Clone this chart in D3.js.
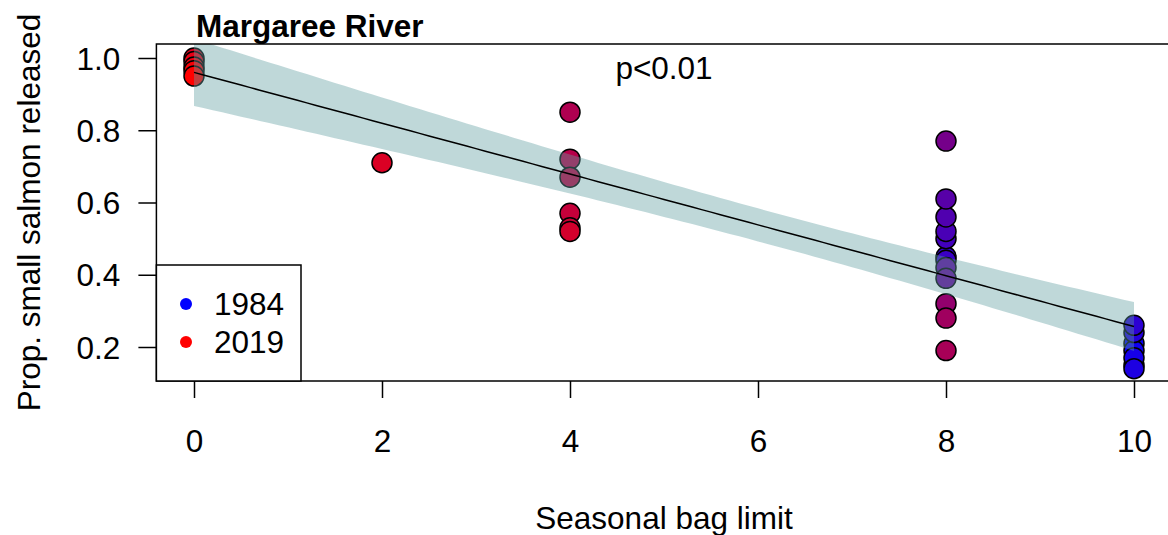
<!DOCTYPE html>
<html>
<head>
<meta charset="utf-8">
<script src="https://cdn.jsdelivr.net/npm/d3@7/dist/d3.min.js"></script>
<style>
  html, body { margin: 0; padding: 0; background: #ffffff; }
  svg { display: block; }
  text { font-family: "Liberation Sans", Arial, sans-serif; fill: #000; }
</style>
</head>
<body>
<svg id="chart" width="1168" height="535"></svg>
<script>
// Seasonal bag limit, proportion of small salmon released, and season year
const bagLimit = [
  10, 10, 10, 10, 10, 10, 10,
  8, 8, 8, 8, 8, 8, 8, 8, 8, 8, 8, 8,
  4, 4, 4, 4, 4, 4,
  2,
  0, 0, 0, 0, 0
];
const propReleased = [
  0.15, 0.21, 0.19, 0.17, 0.14, 0.24, 0.26,
  0.45, 0.44, 0.50, 0.52, 0.56, 0.61, 0.42, 0.39, 0.77, 0.32, 0.28, 0.19,
  0.85, 0.72, 0.67, 0.57, 0.53, 0.52,
  0.71,
  1.00, 0.99, 0.975, 0.965, 0.95
];
const seasonYear = [
  1984, 1985, 1986, 1987, 1988, 1989, 1990,
  1991, 1992, 1993, 1994, 1995, 1996, 1997, 1998, 2000, 2004, 2006, 2007,
  2008, 2009, 2010, 2011, 2012, 2013,
  2014,
  2015, 2016, 2017, 2018, 2019
];
const xTicks = [0, 2, 4, 6, 8, 10];
const yTicks = [0.2, 0.4, 0.6, 0.8, 1.0];
const yTickLabels = ["0.2", "0.4", "0.6", "0.8", "1.0"];
const legendYears = [1984, 2019];
const titleText = "Margaree River";
const pText = "p<0.01";
const xTitle = "Seasonal bag limit";
const yTitle = "Prop. small salmon released";

const svg = d3.select("#chart");
const FS = 31.5;

const x = d3.scaleLinear().domain([0, 10]).range([194, 1134]);
const y = d3.scaleLinear().domain([0.2, 1.0]).range([347, 58]);
const xLo = -0.4, xHi = 10.4;
const box = { left: x(xLo), right: x(xHi), top: 44, bottom: 381 };

const yearColor = d3.scaleLinear()
  .domain([1984, 2019])
  .range(["#0000ff", "#ff0000"])
  .interpolate(d3.interpolateRgb);

const pts = bagLimit.map((b, i) => ({ x: b, y: propReleased[i], yr: seasonYear[i] }));

// Ordinary least squares fit with a 95% confidence band
const n = pts.length;
const mx = d3.mean(pts, d => d.x), my = d3.mean(pts, d => d.y);
const sxx = d3.sum(pts, d => (d.x - mx) ** 2);
const sxy = d3.sum(pts, d => (d.x - mx) * (d.y - my));
const slope = sxy / sxx, icpt = my - slope * mx;
const sse = d3.sum(pts, d => (d.y - (icpt + slope * d.x)) ** 2);
const s = Math.sqrt(sse / (n - 2));
const tCrit = 2.045; // t(0.975, df = 29)
const grid = d3.range(0, 10.0001, 0.1);
const band = grid.map(g => {
  const fit = icpt + slope * g;
  const se = s * Math.sqrt(1 / n + (g - mx) ** 2 / sxx);
  return { x: g, lo: fit - tCrit * se, hi: fit + tCrit * se, fit };
});

svg.append("clipPath").attr("id", "plotclip")
  .append("rect")
  .attr("x", box.left).attr("y", box.top)
  .attr("width", box.right - box.left).attr("height", box.bottom - box.top);

const plot = svg.append("g").attr("clip-path", "url(#plotclip)");

// points
plot.append("g").selectAll("circle")
  .data(pts)
  .join("circle")
  .attr("cx", d => x(d.x))
  .attr("cy", d => y(d.y))
  .attr("r", 10)
  .attr("fill", d => yearColor(d.yr))
  .attr("stroke", "#000")
  .attr("stroke-width", 1.5);

// confidence band
plot.append("path")
  .datum(band)
  .attr("d", d3.area().x(d => x(d.x)).y0(d => y(d.lo)).y1(d => y(d.hi)))
  .attr("fill", "#5f9ea0")
  .attr("fill-opacity", 0.4);

// fitted line
plot.append("path")
  .datum(band)
  .attr("d", d3.line().x(d => x(d.x)).y(d => y(d.fit)))
  .attr("fill", "none")
  .attr("stroke", "#000")
  .attr("stroke-width", 1.5);

// frame
svg.append("rect")
  .attr("x", box.left).attr("y", box.top)
  .attr("width", box.right - box.left).attr("height", box.bottom - box.top)
  .attr("fill", "none").attr("stroke", "#000").attr("stroke-width", 1.5);

// x axis
const xAxis = d3.axisBottom(x).tickValues(xTicks).tickSize(17).tickPadding(12)
  .tickFormat(d3.format("d"));
const gx = svg.append("g").attr("transform", `translate(0,${box.bottom})`).call(xAxis);
gx.select(".domain").remove();
gx.selectAll(".tick line").attr("stroke", "#000").attr("stroke-width", 1.5);
gx.selectAll(".tick text").attr("font-size", FS).attr("font-family", "Liberation Sans, Arial, sans-serif")
  .attr("dy", null).attr("y", 71).attr("fill", "#000");

// y axis
const yAxis = d3.axisLeft(y).tickValues(yTicks).tickSize(18).tickPadding(12)
  .tickFormat((d, i) => yTickLabels[i]);
const gy = svg.append("g").attr("transform", `translate(${box.left},0)`).call(yAxis);
gy.select(".domain").remove();
gy.selectAll(".tick line").attr("stroke", "#000").attr("stroke-width", 1.5);
gy.selectAll(".tick text").attr("font-size", FS).attr("font-family", "Liberation Sans, Arial, sans-serif")
  .attr("x", -36).attr("dy", "0.35em").attr("fill", "#000");

// titles
svg.append("text").attr("x", 196).attr("y", 37)
  .attr("font-size", FS).attr("font-weight", "bold").text(titleText);
svg.append("text").attr("x", x(5)).attr("y", 79).attr("text-anchor", "middle")
  .attr("font-size", FS).text(pText);
svg.append("text").attr("x", (box.left + box.right) / 2).attr("y", 529)
  .attr("text-anchor", "middle").attr("font-size", FS).text(xTitle);
svg.append("text")
  .attr("transform", `translate(40,${(box.top + box.bottom) / 2}) rotate(-90)`)
  .attr("text-anchor", "middle").attr("font-size", FS).text(yTitle);

// legend
const lg = svg.append("g");
lg.append("rect").attr("x", box.left).attr("y", 265)
  .attr("width", 301 - box.left).attr("height", box.bottom - 265)
  .attr("fill", "#fff").attr("stroke", "#000").attr("stroke-width", 1.5);
legendYears.forEach((yr, i) => {
  const cy = 304 + i * 38;
  lg.append("circle").attr("cx", 186).attr("cy", cy).attr("r", 6)
    .attr("fill", yearColor(yr));
  lg.append("text").attr("x", 214).attr("y", cy).attr("dy", "0.35em")
    .attr("font-size", FS).text(String(yr));
});
</script>
</body>
</html>
